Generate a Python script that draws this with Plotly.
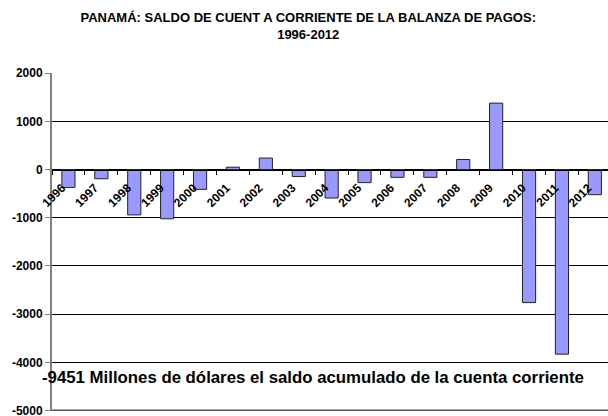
import plotly.graph_objects as go

years = ["1996", "1997", "1998", "1999", "2000", "2001", "2002", "2003", "2004",
         "2005", "2006", "2007", "2008", "2009", "2010", "2011", "2012"]
saldo = [-370, -190, -940, -1020, -410, 50, 240, -145, -590,
         -270, -160, -160, 210, 1380, -2760, -3830, -520]
y_ticks = [2000, 1000, 0, -1000, -2000, -3000, -4000, -5000]
y_tick_labels = ["2000", "1000", "0", "-1000", "-2000", "-3000", "-4000", "-5000"]

title_text = "PANAMÁ: SALDO DE CUENT A CORRIENTE DE LA BALANZA DE PAGOS:<br>1996-2012"
note_text = "-9451 Millones de dólares el saldo acumulado de la cuenta corriente"

FONT = "Liberation Sans, Arial, sans-serif"
positions = list(range(len(years)))

fig = go.Figure()
fig.add_trace(go.Bar(
    x=positions, y=saldo, width=0.4,
    marker=dict(color="#9999FF", line=dict(color="#222222", width=1)),
))

ymin, ymax = -5010, 2005
xr = [-0.5, 16.4]
shift = 0.2
zero_pos = (0 - ymin) / (ymax - ymin)
fig.update_layout(
    width=608, height=416,
    margin=dict(l=52, r=0, t=73, b=5, autoexpand=False),
    paper_bgcolor="white", plot_bgcolor="white",
    showlegend=False,
    title=dict(text="<b>" + title_text + "</b>", x=0.507, xanchor="center",
               xref="container", yref="container", y=1 - 22 / 416, yanchor="top",
               automargin=False,
               font=dict(family=FONT, size=13, color="black")),
    xaxis=dict(range=xr, automargin=False,
               anchor="free", position=zero_pos,
               tickvals=[p - 0.5 for p in positions] + [positions[-1] + 0.5],
               showline=True, linecolor="black", linewidth=1,
               ticks="outside", ticklen=4, tickcolor="black",
               showticklabels=False, showgrid=False, zeroline=False),
    xaxis2=dict(range=[xr[0] + shift, xr[1] + shift], overlaying="x",
                automargin=False, anchor="free", position=zero_pos,
                tickvals=positions, ticktext=years, ticks="",
                showline=False, showgrid=False, zeroline=False,
                tickangle=-45, ticklabelstandoff=8, ticklabeloverflow="allow",
                tickfont=dict(family=FONT, size=12, color="black", weight="bold")),
    yaxis=dict(range=[ymin, ymax], tickvals=y_ticks, ticktext=y_tick_labels,
               automargin=False, ticklabeloverflow="allow",
               showgrid=True, gridcolor="black", gridwidth=1, zeroline=False,
               showline=True, linecolor="#808080", linewidth=2,
               ticks="outside", ticklen=5, tickcolor="#808080",
               tickfont=dict(family=FONT, size=12, color="black", weight="bold")),
    shapes=[dict(type="line", xref="paper", yref="y", x0=0, x1=1,
                 y0=y_ticks[-1], y1=y_ticks[-1], line=dict(color="#555555", width=2),
                 layer="above")],
    annotations=[dict(text="<b>" + note_text + "</b>", xref="paper", yref="y",
                      x=(313 - 52) / 556, y=-4320, xanchor="center", yanchor="middle",
                      showarrow=False,
                      font=dict(family=FONT, size=16.8, color="black"))],
)
# invisible helper so xaxis2 is active
fig.add_trace(go.Scatter(x=[positions[0]], y=[0], xaxis="x2", mode="markers",
                         marker=dict(opacity=0), hoverinfo="skip"))

fig.write_html("out.html", config={"displayModeBar": False},
               post_script="document.body.style.margin='0';document.body.style.padding='0';")
